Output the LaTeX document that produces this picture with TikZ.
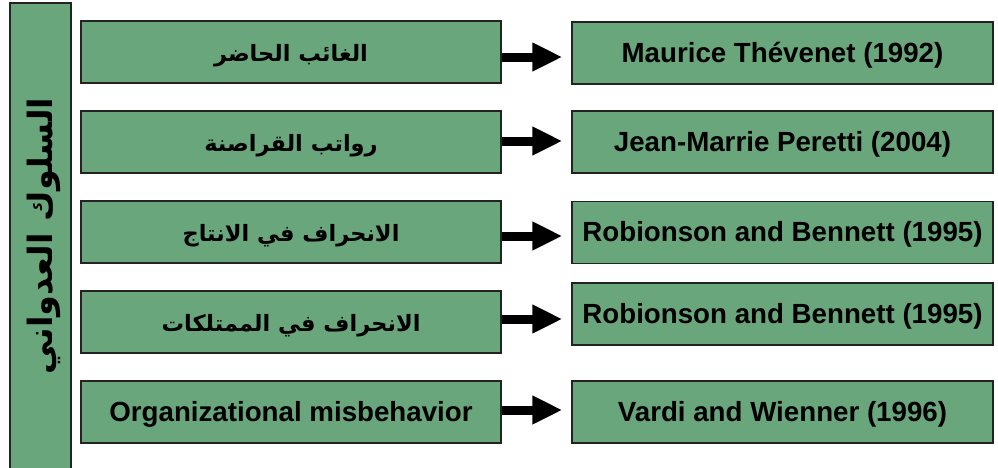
\documentclass[tikz,border=0pt]{standalone}
\usepackage{fontspec}
\setmainfont{Liberation Sans}
\newfontfamily\arabicfont[Script=Arabic]{DejaVu Sans}
\TeXXeTstate=1
\usetikzlibrary{arrows.meta}
\definecolor{boxgreen}{RGB}{106,166,124}
\definecolor{edgegray}{RGB}{35,35,35}
\tikzset{
  box/.style={draw=edgegray, line width=1.5pt, fill=boxgreen, minimum height=62pt, inner sep=0pt},
  leftbox/.style={box, minimum width=420pt},
  rightbox/.style={box, minimum width=421pt},
  lattxt/.style={inner sep=0pt, font=\bfseries\fontsize{27.7}{32}\selectfont},
  arabtxt/.style={inner sep=0pt, font=\arabicfont\bfseries\fontsize{22.5}{26}\selectfont},
  bigarrow/.style={line width=9pt, -{Triangle[length=30pt,width=27pt]}, shorten >=9pt},
}
\begin{document}
\begin{tikzpicture}[x=1pt,y=-1pt]
\useasboundingbox (0,0) rectangle (998,467);
\node[draw=edgegray, line width=2pt, fill=boxgreen, minimum width=61pt, minimum height=470pt, inner sep=0pt] (bar) at (40.5,238) {};
\node[rotate=90, inner sep=0pt, font=\arabicfont\bfseries\fontsize{33.5}{38}\selectfont] (bartext) at (44,236) {\beginR السلوك العدواني\endR};
% left boxes
\node[leftbox] (l1) at (291,52) {};
\node[leftbox] (l2) at (291,142) {};
\node[leftbox] (l3) at (291,232) {};
\node[leftbox] (l4) at (291,322) {};
\node[leftbox] (l5) at (291,412) {};
\node[arabtxt] (t1) at ([yshift=-4pt]l1.center) {\beginR الغائب الحاضر\endR};
\node[arabtxt] (t2) at ([yshift=-4pt]l2.center) {\beginR رواتب القراصنة\endR};
\node[arabtxt] (t3) at ([yshift=-4pt]l3.center) {\beginR الانحراف في الانتاج\endR};
\node[arabtxt] (t4) at ([yshift=-4pt]l4.center) {\beginR الانحراف في الممتلكات\endR};
\node[lattxt] (t5) at ([yshift=-2pt]l5.center) {Organizational misbehavior};
% right boxes
\node[rightbox] (r1) at (782.5,53) {};
\node[rightbox] (r2) at (782.5,142) {};
\node[rightbox] (r3) at (782.5,232.5) {};
\node[rightbox] (r4) at (782.5,314) {};
\node[rightbox] (r5) at (782.5,412) {};
\node[lattxt] (s1) at ([yshift=-2pt]r1.center) {Maurice Thévenet (1992)};
\node[lattxt] (s2) at ([yshift=-2pt]r2.center) {Jean-Marrie Peretti (2004)};
\node[lattxt] (s3) at ([yshift=-2pt]r3.center) {Robionson and Bennett (1995)};
\node[lattxt] (s4) at ([yshift=-2pt]r4.center) {Robionson and Bennett (1995)};
\node[lattxt] (s5) at ([yshift=-2pt]r5.center) {Vardi and Wienner (1996)};
% arrows
\coordinate (a1) at (l1.east |- 0,57);
\coordinate (a2) at (l2.east |- 0,141);
\coordinate (a3) at (l3.east |- 0,236);
\coordinate (a4) at (l4.east |- 0,319);
\coordinate (a5) at (l5.east |- 0,410);
\foreach \i in {1,...,5}{
  \draw[bigarrow] (a\i) -- (a\i -| r\i.west);
}
\end{tikzpicture}
\end{document}
